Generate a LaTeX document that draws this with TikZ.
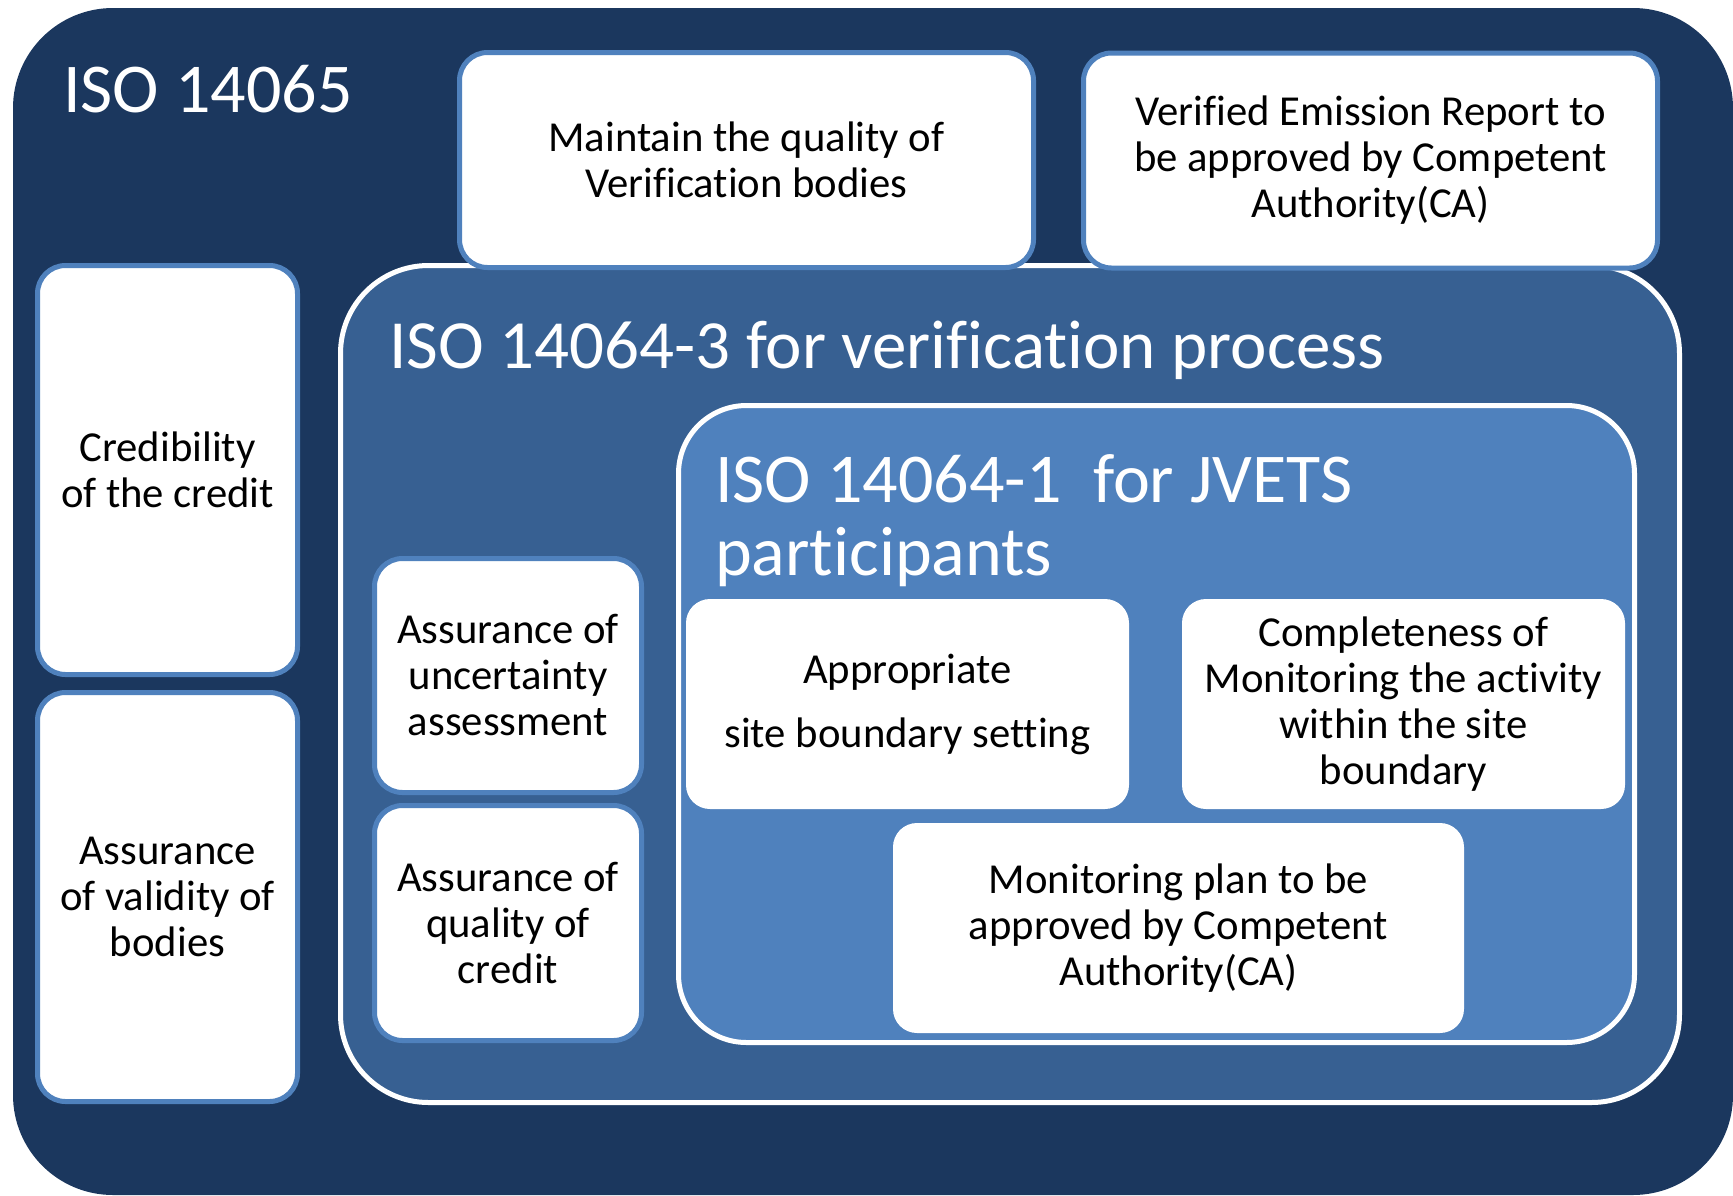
\documentclass[tikz,border=0pt]{standalone}
\usepackage{fontspec}
\setmainfont{Carlito}[Ligatures=NoCommon]

\definecolor{isonavy}{RGB}{27,55,94}
\definecolor{isomid}{RGB}{55,96,146}
\definecolor{isolight}{RGB}{79,129,189}

\tikzset{
  groupbox/.style={draw=white, line width=5, inner sep=0},
  itembox/.style={fill=white, draw=isolight, line width=5, rounded corners=28,
    inner sep=0, align=center, font=\fontsize{42.7}{46}\selectfont},
  plainbox/.style={fill=white, rounded corners=24, inner sep=0, align=center,
    font=\fontsize{42.7}{46}\selectfont},
  heading/.style={text=white, inner sep=0, anchor=base west, align=left}
}

\begin{document}
\begin{tikzpicture}[x=1pt, y=-1pt]
    \useasboundingbox (0,0) rectangle (1733,1195);
    \fill [isonavy, rounded corners=100] (13,8) rectangle (1733,1195);
    \node [heading, font=\fontsize{70}{73}\selectfont] (t65) at (63,112) {ISO 14065};

    % ISO 14064-3 and ISO 14064-1 groups
    \node [groupbox, fill=isomid, rounded corners=88, minimum width=1339, minimum height=837] (g3) at (1010,684) {};
    \node [heading, font=\fontsize{69}{73}\selectfont] (t3) at (389,368) {ISO 14064-3 for verification process};
    \node [groupbox, fill=isolight, rounded corners=68, minimum width=956, minimum height=637] (g1) at (1156.5,724) {};
    \node [heading, font=\fontsize{70}{73}\selectfont] (t1) at (715,575) {ISO 14064-1~ for JVETS\\participants};

    \node [itembox, minimum width=574, minimum height=215] (maintain) at (746.5,160) {Maintain the quality of\\Verification bodies};
    \node [itembox, minimum width=574, minimum height=215] (verified) at (1370.5,160.5) {Verified Emission Report to\\be approved by Competent\\Authority(CA)};
    \node [itembox, minimum width=260, minimum height=409] (cred) at (167.5,470) {Credibility\\of the credit};
    \node [itembox, minimum width=260, minimum height=409] (valid) at (167.5,897) {Assurance\\of validity of\\bodies};
    \node [itembox, minimum width=267, minimum height=234] (uncert) at (508,675.5) {Assurance of\\uncertainty\\assessment};
    \node [itembox, minimum width=267, minimum height=235] (quality) at (508,923) {Assurance of\\quality of\\credit};

    \node [plainbox, minimum width=443, minimum height=210] (site) at (907.5,704) {Appropriate\\[18pt]site boundary setting};
    \node [plainbox, minimum width=443, minimum height=210] (complete) at (1403.5,704) {Completeness of\\Monitoring the activity\\within the site\\boundary};
    \node [plainbox, minimum width=571, minimum height=210] (plan) at (1178.5,928) {Monitoring plan to be\\approved by Competent\\Authority(CA)};
\end{tikzpicture}
\end{document}
